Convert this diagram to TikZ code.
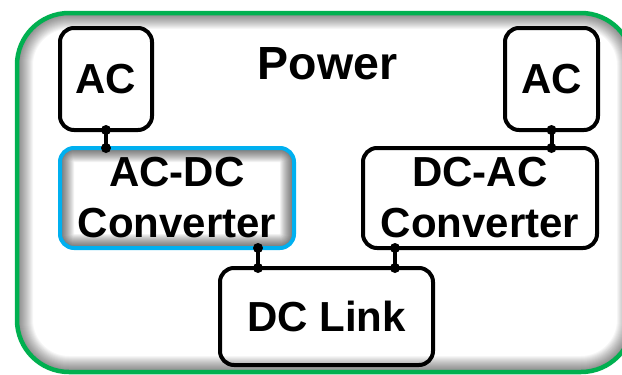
\documentclass[tikz,border=0pt]{standalone}
\usepackage{fontspec}
\setmainfont{Liberation Sans}
\usetikzlibrary{calc}
\pgfdeclarelayer{back}
\pgfdeclarelayer{shade}
\pgfsetlayers{back,shade,main}
\definecolor{framegreen}{HTML}{00B050}
\definecolor{convblue}{HTML}{00B0F0}
\tikzset{
  unit/.style={rectangle, draw=black, line width=4pt, rounded corners=14pt,
    outer sep=0pt, inner sep=0pt, align=center,
    font=\fontsize{42}{51}\selectfont\bfseries},
  wire/.style={line width=4pt},
  titletext/.style={font=\fontsize{46.5}{55}\selectfont\bfseries}
}
\begin{document}
\begin{tikzpicture}[x=1pt,y=-1pt]
\useasboundingbox (0,0) rectangle (622,375);

% outer frame with inner shadow
\begin{pgfonlayer}{back}
  \fill[white] (0,0) rectangle (622,375);
  \begin{scope}
    \clip[rounded corners=52pt] (17,13) rectangle (633,372);
    \foreach \w in {1,...,16}
      \draw[black, opacity=0.035, line width={2*\w*1pt}, rounded corners=52pt]
        (17,13) rectangle (633,372);
  \end{scope}
  \draw[framegreen, line width=4.5pt, rounded corners=52pt] (17,13) rectangle (633,372);
\end{pgfonlayer}

% blocks
\node[titletext] (title) at (327.5,64) {Power};
\node[unit, minimum width=92pt, minimum height=102pt] (acL) at (106,79) {AC};
\node[unit, draw=convblue, minimum width=234pt, minimum height=100pt] (acdc) at (177,198) {AC-DC\\Converter};
\node[unit, minimum width=213pt, minimum height=97pt] (link) at (326.5,316.5) {DC Link};
\node[unit, minimum width=234pt, minimum height=100pt] (dcac) at (480,198) {DC-AC\\Converter};
\node[unit, minimum width=93pt, minimum height=102pt] (acR) at (551.5,79) {AC};

% inner shadow of the selected converter
\begin{pgfonlayer}{shade}
  \begin{scope}
    \clip[rounded corners=14pt] (acdc.south west) rectangle (acdc.north east);
    \foreach \w in {1,...,14}
      \draw[black, opacity=0.05, line width={2*\w*1pt}, rounded corners=14pt]
        (acdc.south west) rectangle (acdc.north east);
  \end{scope}
\end{pgfonlayer}

% connections
\draw[wire] (acL.south) coordinate (a1) -- (acL.south |- acdc.north) coordinate (a2);
\draw[wire] ([xshift=81pt]acdc.south) coordinate (b1) -- (b1 |- link.north) coordinate (b2);
\draw[wire] ([xshift=-85pt]dcac.south) coordinate (c1) -- (c1 |- link.north) coordinate (c2);
\draw[wire] (acR.south) coordinate (d1) -- (acR.south |- dcac.north) coordinate (d2);
\foreach \p in {a1,a2,b1,b2,c1,c2,d1,d2}
  \fill (\p) circle (5pt);
\end{tikzpicture}
\end{document}
